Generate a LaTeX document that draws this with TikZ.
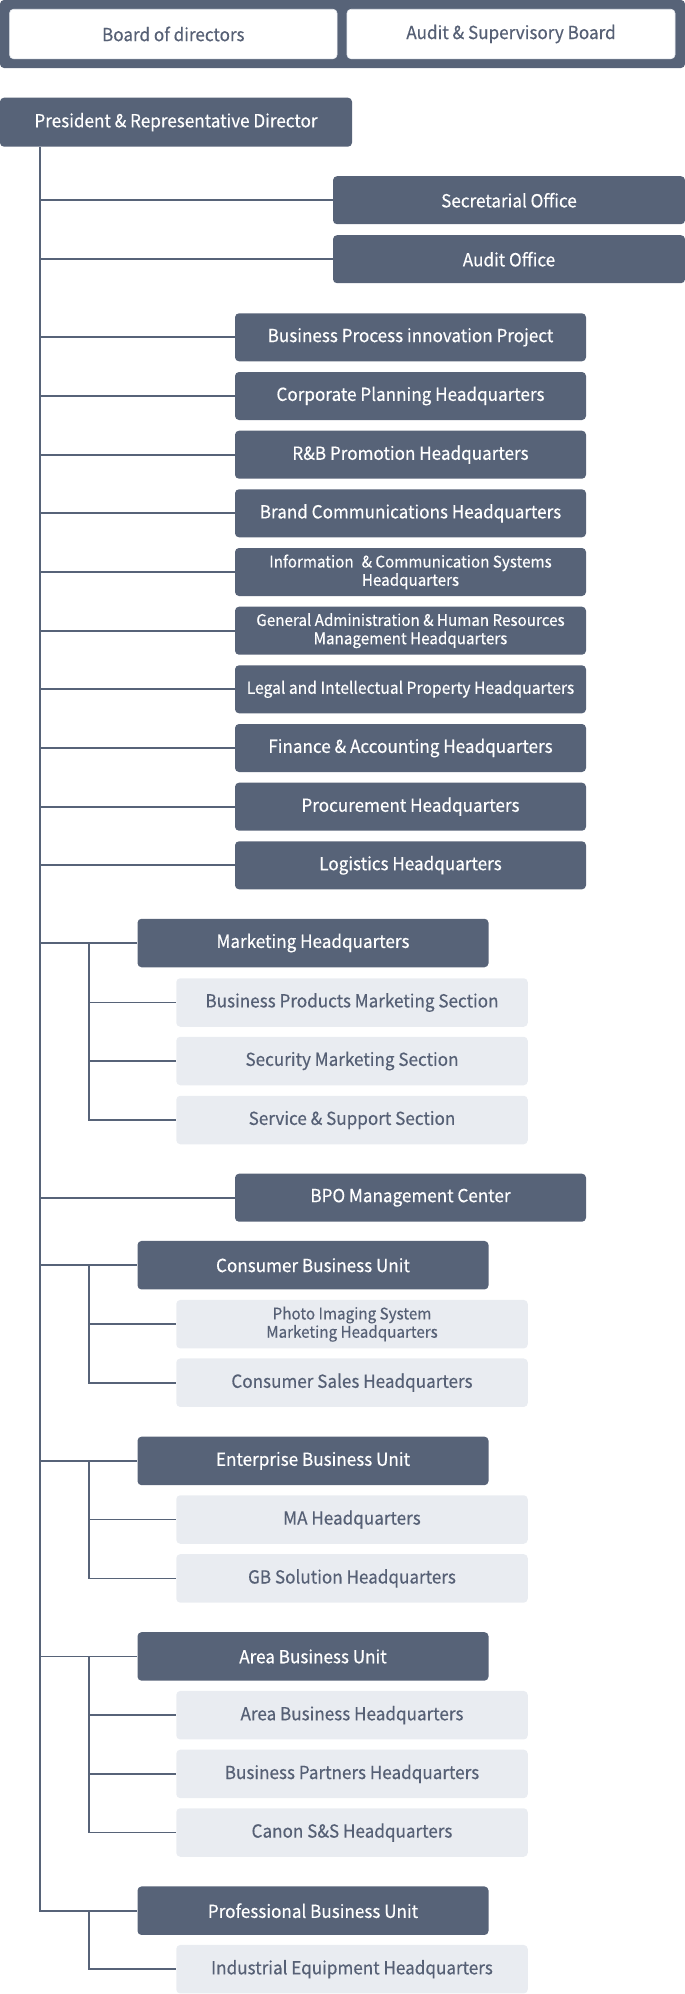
\documentclass[tikz,border=0pt]{standalone}
\usepackage{fontspec}
\setmainfont{Noto Sans CJK JP}[FakeStretch=0.95, FakeBold=0.35]
\definecolor{dk}{HTML}{576378}
\definecolor{lt}{HTML}{E9ECF1}
\definecolor{ltxt}{HTML}{566075}
\tikzset{
  box/.style={rounded corners=4pt, inner sep=0pt, align=center, font=\fontsize{18}{21}\selectfont},
  darkbox/.style={box, fill=dk, text=white},
  lightbox/.style={box, fill=lt, text=ltxt},
  whitebox/.style={box, fill=white, text=ltxt, draw=lt, line width=0.6pt},
  offw/.style={minimum width=352pt, minimum height=48pt},
  hqw/.style={minimum width=351pt, minimum height=48pt},
  unitw/.style={minimum width=351pt, minimum height=48.5pt},
  subw/.style={minimum width=351.5pt, minimum height=48.5pt},
  small/.style={font=\fontsize{16}{18.3}\selectfont},
  mid/.style={font=\fontsize{16.5}{19}\selectfont},
  conn/.style={draw=dk, line width=1.8pt},
}
\begin{document}
\begin{tikzpicture}[x=1pt,y=-1pt]
\useasboundingbox (0,0) rectangle (685,1994);
% top panel
\node[darkbox, minimum width=685pt, minimum height=68pt] (panel) at (342.5,34) {};
\node[whitebox, minimum width=327.5pt, minimum height=49.5pt] (bod) at (173.3,34) {Board of directors};
\node[whitebox, minimum width=328pt, minimum height=49.5pt] (asb) at (511,34) {Audit \& Supervisory Board};
% president
\node[darkbox, minimum width=352pt, minimum height=49pt] (pres) at (176,122.2) {President \& Representative Director};
\coordinate (tk) at (40,0);
\coordinate (st) at (89,0);
% offices
\node[darkbox, offw] (sec) at (509,200.2) {Secretarial Office};
\node[darkbox, offw] (aud) at (509,259.2) {Audit Office};
% headquarters
\node[darkbox, hqw] (h1) at (410.5,337.3) {Business Process innovation Project};
\node[darkbox, hqw] (h2) at (410.5,396.0) {Corporate Planning Headquarters};
\node[darkbox, hqw] (h3) at (410.5,454.7) {R\&B Promotion Headquarters};
\node[darkbox, hqw] (h4) at (410.5,513.3) {Brand Communications Headquarters};
\node[darkbox, hqw, small] (h5) at (410.5,572.0) {Information\enspace\& Communication Systems\\Headquarters};
\node[darkbox, hqw, small] (h6) at (410.5,630.7) {General Administration \& Human Resources\\Management Headquarters};
\node[darkbox, hqw, mid] (h7) at (410.5,689.3) {Legal and Intellectual Property Headquarters};
\node[darkbox, hqw] (h8) at (410.5,748.0) {Finance \& Accounting Headquarters};
\node[darkbox, hqw] (h9) at (410.5,806.7) {Procurement Headquarters};
\node[darkbox, hqw] (h10) at (410.5,865.3) {Logistics Headquarters};
% marketing
\node[darkbox, unitw] (mkt) at (313,943) {Marketing Headquarters};
\node[lightbox, subw] (mk1) at (352,1002.5) {Business Products Marketing Section};
\node[lightbox, subw] (mk2) at (352,1061) {Security Marketing Section};
\node[lightbox, subw] (mk3) at (352,1120) {Service \& Support Section};
% BPO
\node[darkbox, hqw] (bpo) at (410.5,1197.7) {BPO Management Center};
% consumer
\node[darkbox, unitw] (con) at (313,1265.2) {Consumer Business Unit};
\node[lightbox, subw, small] (co1) at (352,1324.2) {Photo Imaging System\\Marketing Headquarters};
\node[lightbox, subw] (co2) at (352,1382.7) {Consumer Sales Headquarters};
% enterprise
\node[darkbox, unitw] (ent) at (313,1460.9) {Enterprise Business Unit};
\node[lightbox, subw] (en1) at (352,1519.5) {MA Headquarters};
\node[lightbox, subw] (en2) at (352,1578.4) {GB Solution Headquarters};
% area
\node[darkbox, unitw] (are) at (313,1656.4) {Area Business Unit};
\node[lightbox, subw] (ar1) at (352,1715.2) {Area Business Headquarters};
\node[lightbox, subw] (ar2) at (352,1773.9) {Business Partners Headquarters};
\node[lightbox, subw] (ar3) at (352,1832.5) {Canon S\&S Headquarters};
% professional
\node[darkbox, unitw] (pro) at (313,1910.7) {Professional Business Unit};
\node[lightbox, subw] (pr1) at (352,1969.2) {Industrial Equipment Headquarters};
% trunk
\draw[conn] (pres.south -| tk) -- (pro.west -| tk) -- (pro.west);
\foreach \n in {sec,aud,h1,h2,h3,h4,h5,h6,h7,h8,h9,h10,mkt,bpo,con,ent,are}
  \draw[conn] (\n.west -| tk) -- (\n.west);
% sub branches
\draw[conn] (mkt.west -| st) |- (mk3.west);
\draw[conn] (mk1.west -| st) -- (mk1.west);
\draw[conn] (mk2.west -| st) -- (mk2.west);
\draw[conn] (con.west -| st) |- (co2.west);
\draw[conn] (co1.west -| st) -- (co1.west);
\draw[conn] (ent.west -| st) |- (en2.west);
\draw[conn] (en1.west -| st) -- (en1.west);
\draw[conn] (are.west -| st) |- (ar3.west);
\draw[conn] (ar1.west -| st) -- (ar1.west);
\draw[conn] (ar2.west -| st) -- (ar2.west);
\draw[conn] (pro.west -| st) |- (pr1.west);
\end{tikzpicture}
\end{document}
